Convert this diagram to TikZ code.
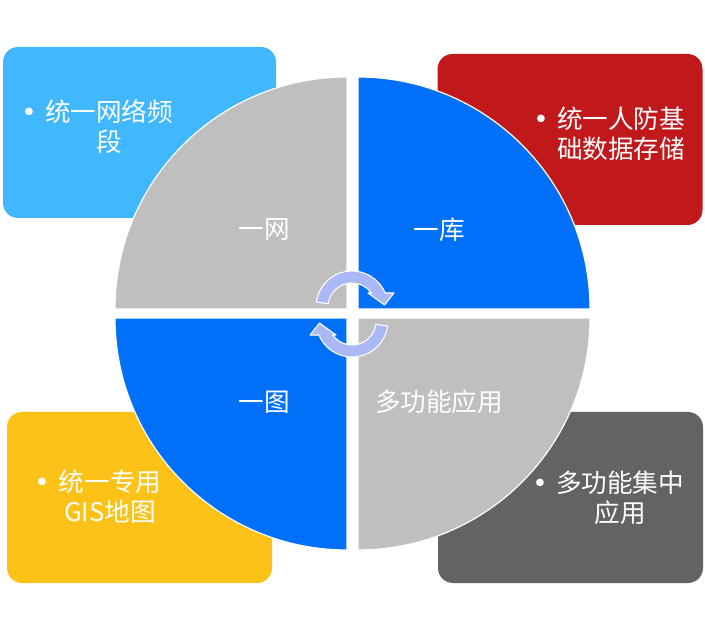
\documentclass[tikz,border=0pt]{standalone}
\usepackage{fontspec}
\setmainfont{Noto Sans CJK SC}
\definecolor{cwGray}{HTML}{BFBFBF}
\definecolor{cwBlue}{HTML}{0070F8}
\definecolor{cwSky}{HTML}{41B7FE}
\definecolor{cwRed}{HTML}{C1191B}
\definecolor{cwAmber}{HTML}{FDC218}
\definecolor{cwSlate}{HTML}{636363}
\definecolor{cwArrow}{HTML}{AAB9F5}
\tikzset{
  every node/.style={font=\fontsize{19.2}{22.5}\selectfont, text=white},
  cornerCard/.style={rectangle, rounded corners=11.25pt, minimum width=198.75pt,
    minimum height=128.25pt, inner sep=0pt},
  cardText/.style={align=center, inner sep=0pt},
  quarterLabel/.style={inner sep=0pt},
  pieSlice/.style={draw=white, line width=0.9pt},
  cycleArrow/.style={fill=cwArrow, draw=white, line width=0.8pt, line join=round},
}
\newcommand{\pieR}{232}
\newcommand{\pieQuarter}[3]{%
  \path[pieSlice, fill=#3] (#1) -- ++(#2:\pieR)
    arc[start angle=#2, delta angle=90, radius=\pieR] -- cycle;
}
\newcommand{\cycleShape}[1]{%
  \begin{scope}[#1]
    \path[cycleArrow] (172:36) arc[start angle=172, end angle=22.9, radius=36]
      -- (42,14) -- (32.5,2) -- (16,14) -- (19.4,14)
      arc[start angle=35.7, end angle=172, radius=24] -- cycle;
  \end{scope}
}
\newcommand{\bulletmark}{\llap{\raisebox{-2.5pt}{\scalebox{1.4}{•}}\hspace{-1.5pt}}}

\begin{document}
\begin{tikzpicture}[x=0.75pt,y=0.75pt]
  \useasboundingbox (0,0) rectangle (705,631);

  % Four corner cards behind the wheel.
  \node[cornerCard, fill=cwSky, minimum width=204.75pt] (netCard) at (139.5,498.5) {};
  \node[cornerCard, fill=cwRed] (storeCard) at (570,491.5) {};
  \node[cornerCard, fill=cwAmber] (mapCard) at (139.5,133.5) {};
  \node[cornerCard, fill=cwSlate] (appCard) at (570.5,133.5) {};

  % Exploded wheel.
  \pieQuarter{347,322}{90}{cwGray}
  \pieQuarter{358,322}{0}{cwBlue}
  \pieQuarter{347,313}{180}{cwBlue}
  \pieQuarter{358,313}{270}{cwGray}

  \node[quarterLabel] (netLabel) at (264,401) {一网};
  \node[quarterLabel] (storeLabel) at (439,401) {一库};
  \node[quarterLabel] (mapLabel) at (264,229) {一图};
  \node[quarterLabel] (appLabel) at (439,229) {多功能应用};

  \node[cardText] (netText) at (109,504) {\bulletmark 统一网络频\\段};
  \node[cardText] (storeText) at (621,497) {\bulletmark 统一人防基\\础数据存储};
  \node[cardText] (mapText) at (110,134) {\bulletmark 统一专用\\GIS地图};
  \node[cardText] (appText) at (620,133) {\bulletmark 多功能集中\\应用};

  % Cycle arrows in the middle.
  \cycleShape{shift={(352,324)}}
  \cycleShape{shift={(352,310)}, rotate=180}
\end{tikzpicture}
\end{document}
